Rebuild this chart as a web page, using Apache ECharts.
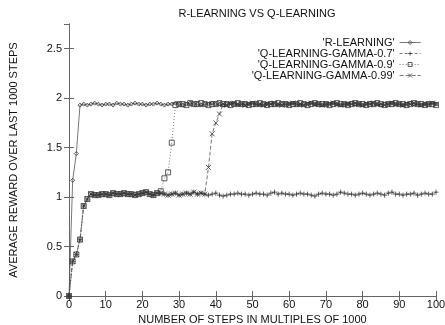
<!DOCTYPE html>
<html>
<head>
<meta charset="utf-8">
<script src="https://cdn.jsdelivr.net/npm/echarts@6/dist/echarts.min.js"></script>
<style>
  html, body { margin: 0; padding: 0; background: #fff; }
  #main { width: 445px; height: 325px; }
</style>
</head>
<body>
<div id="main"></div>
<script>
// steps 0..100 (multiples of 1000)
var steps = [];
for (var i = 0; i <= 100; i++) steps.push(i);

var seriesNames = ["'R-LEARNING'", "'Q-LEARNING-GAMMA-0.7'", "'Q-LEARNING-GAMMA-0.9'", "'Q-LEARNING-GAMMA-0.99'"];

var rLearning = [0,1.17,1.44,1.93,1.94,1.93,1.94,1.95,1.94,1.93,
1.94,1.94,1.93,1.95,1.94,1.94,1.93,1.94,1.95,1.94,
1.94,1.93,1.94,1.94,1.95,1.94,1.93,1.94,1.94,1.95,
1.94,1.93,1.94,1.95,1.94,1.94,1.93,1.94,1.94,1.95,
1.94,1.94,1.93,1.94,1.95,1.94,1.93,1.94,1.94,1.94,
1.95,1.94,1.93,1.94,1.94,1.95,1.94,1.93,1.94,1.94,
1.94,1.95,1.94,1.93,1.94,1.94,1.95,1.94,1.94,1.93,
1.94,1.94,1.95,1.94,1.93,1.94,1.94,1.95,1.94,1.94,
1.93,1.94,1.95,1.94,1.94,1.93,1.94,1.94,1.95,1.94,
1.94,1.93,1.94,1.95,1.94,1.94,1.93,1.94,1.94,1.95,1.94];

var qGamma07 = [0,0.35,0.42,0.57,0.91,0.98,1.03,1.02,1.02,1.03,
1.03,1.02,1.04,1.03,1.03,1.04,1.03,1.03,1.02,1.03,
1.04,1.05,1.03,1.02,1.04,1.04,1.03,1.02,1.03,1.04,
1.02,1.03,1.04,1.03,1.05,1.03,1.04,1.03,1.02,1.03,
1.04,1.02,1.01,1.02,1.03,1.03,1.04,1.03,1.03,1.02,
1.03,1.04,1.03,1.03,1.02,1.04,1.05,1.03,1.04,1.03,
1.03,1.02,1.03,1.04,1.03,1.03,1.02,1.01,1.03,1.04,
1.03,1.03,1.02,1.03,1.05,1.04,1.03,1.03,1.02,1.03,
1.04,1.03,1.02,1.03,1.04,1.03,1.02,1.04,1.05,1.03,
1.03,1.02,1.03,1.03,1.04,1.02,1.03,1.04,1.03,1.03,1.05];

var qGamma09 = [0,0.35,0.42,0.57,0.91,0.98,1.03,1.02,1.02,1.03,
1.03,1.02,1.04,1.03,1.03,1.04,1.03,1.03,1.02,1.03,
1.04,1.05,1.03,1.02,1.04,1.06,1.19,1.25,1.55,1.93,
1.94,1.94,1.93,1.95,1.94,1.94,1.95,1.94,1.93,1.94,
1.94,1.95,1.94,1.94,1.93,1.94,1.95,1.94,1.94,1.93,
1.94,1.94,1.95,1.94,1.93,1.94,1.94,1.95,1.94,1.94,
1.93,1.94,1.94,1.95,1.94,1.93,1.94,1.95,1.94,1.94,
1.94,1.93,1.94,1.95,1.94,1.94,1.93,1.94,1.95,1.94,
1.94,1.93,1.94,1.94,1.95,1.94,1.93,1.94,1.94,1.95,
1.94,1.94,1.93,1.94,1.95,1.94,1.94,1.93,1.94,1.94,1.93];

var qGamma099 = [0,0.35,0.42,0.57,0.91,0.98,1.03,1.02,1.02,1.03,
1.03,1.02,1.04,1.03,1.03,1.04,1.03,1.03,1.02,1.03,
1.04,1.05,1.03,1.02,1.04,1.04,1.03,1.02,1.03,1.04,
1.02,1.03,1.04,1.03,1.05,1.03,1.04,1.03,1.30,1.64,
1.75,1.84,1.94,1.93,1.94,1.95,1.94,1.94,1.93,1.94,
1.95,1.94,1.94,1.93,1.94,1.94,1.95,1.94,1.93,1.94,
1.94,1.95,1.94,1.94,1.93,1.94,1.95,1.94,1.94,1.93,
1.94,1.94,1.95,1.94,1.93,1.94,1.94,1.94,1.95,1.94,
1.93,1.94,1.94,1.95,1.94,1.94,1.93,1.94,1.95,1.94,
1.94,1.93,1.94,1.94,1.95,1.94,1.93,1.94,1.94,1.95,1.94];

var yTicks = [0, 0.5, 1, 1.5, 2, 2.5];

function pairs(vals) {
  return vals.map(function (v, i) { return [steps[i], v]; });
}

var plusPath = 'path://M5,0L5,10M0,5L10,5';
var crossPath = 'path://M0,0L10,10M10,0L0,10';

var markColor = '#333';
var lineColor = '#555';
var fontFam = '"Liberation Sans", Arial, sans-serif';

function mkSeries(name, vals, symbol, size, lineType) {
  return {
    name: name,
    type: 'line',
    data: pairs(vals),
    symbol: symbol,
    symbolSize: size,
    showAllSymbol: true,
    animation: false,
    itemStyle: { color: 'rgba(0,0,0,0)', borderColor: markColor, borderWidth: 0.8 },
    lineStyle: { color: lineColor, width: 0.8, type: lineType },
    emphasis: { disabled: true }
  };
}

var legendTops = [32, 43, 54, 65];
var legends = seriesNames.map(function (n, k) {
  return {
    data: [n],
    right: 19,
    top: legendTops[k],
    align: 'right',
    itemWidth: 21,
    itemHeight: 5,
    itemGap: 6,
    itemStyle: { color: 'rgba(0,0,0,0)', borderColor: markColor, borderWidth: 0.8 },
    lineStyle: { color: lineColor, width: 0.8 },
    textStyle: { fontFamily: fontFam, fontSize: 11, color: '#111' }
  };
});

var myChart = echarts.init(document.getElementById('main'));
var option = {
  backgroundColor: '#fff',
  animation: false,
  title: {
    text: 'R-LEARNING VS Q-LEARNING',
    left: 252,
    textAlign: 'center',
    top: 3,
    textStyle: { fontFamily: fontFam, fontSize: 11, fontWeight: 'normal', color: '#111' }
  },
  legend: legends,
  grid: { left: 69, right: 9, top: 24, bottom: 29, outerBoundsMode: 'none', containLabel: false },
  xAxis: [{
    type: 'value', min: 0, max: 100, interval: 10,
    name: 'NUMBER OF STEPS IN MULTIPLES OF 1000',
    nameLocation: 'middle', nameGap: 15,
    nameTextStyle: { fontFamily: fontFam, fontSize: 11, color: '#111' },
    axisLine: { lineStyle: { color: '#666', width: 1 } },
    axisTick: { inside: true, length: 5, lineStyle: { color: '#666' } },
    axisLabel: { fontFamily: fontFam, fontSize: 11, color: '#111', margin: 3 },
    splitLine: { show: false }
  }, {
    type: 'value', min: 0, max: 100, interval: 10, position: 'top',
    axisLine: { lineStyle: { color: '#666', width: 1 } },
    axisTick: { inside: true, length: 5, lineStyle: { color: '#666' } },
    axisLabel: { show: false },
    splitLine: { show: false }
  }],
  yAxis: [{
    type: 'value', min: 0, max: 2.75, interval: 0.5,
    name: 'AVERAGE REWARD OVER LAST 1000 STEPS',
    nameLocation: 'middle', nameGap: 50,
    nameTextStyle: { fontFamily: fontFam, fontSize: 11, color: '#111' },
    axisLine: { show: true, lineStyle: { color: '#666', width: 1 } },
    axisTick: { show: true, inside: true, length: 5, lineStyle: { color: '#666' } },
    axisLabel: {
      fontFamily: fontFam, fontSize: 11, color: '#111', margin: 7,
      showMaxLabel: false,
      formatter: function (v) { return yTicks.indexOf(v) >= 0 ? String(v) : ''; }
    },
    splitLine: { show: false }
  }, {
    type: 'value', min: 0, max: 2.75, interval: 0.5, position: 'right',
    axisLine: { show: true, lineStyle: { color: '#666', width: 1 } },
    axisTick: { show: true, inside: true, length: 5, lineStyle: { color: '#666' } },
    axisLabel: { show: false },
    splitLine: { show: false }
  }],
  series: [
    mkSeries(seriesNames[0], rLearning, 'diamond', 4, 'solid'),
    mkSeries(seriesNames[1], qGamma07, plusPath, 5, [3, 2]),
    mkSeries(seriesNames[2], qGamma09, 'rect', 5, [1, 2]),
    mkSeries(seriesNames[3], qGamma099, crossPath, 5, [4, 2])
  ]
};
myChart.setOption(option);
</script>
</body>
</html>
